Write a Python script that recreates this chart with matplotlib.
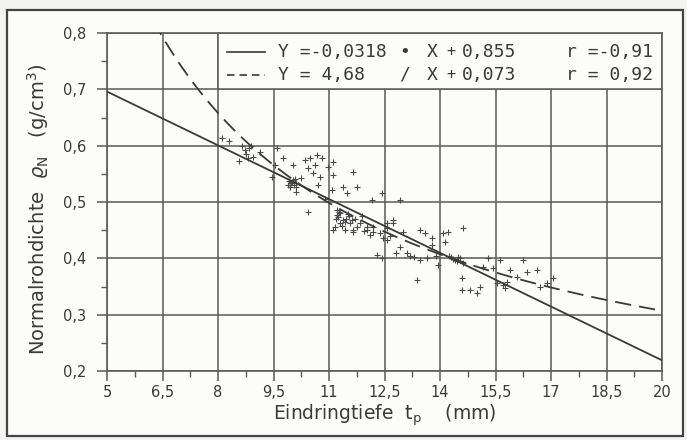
import matplotlib
matplotlib.use('Agg')
import matplotlib.pyplot as plt
import numpy as np
from matplotlib.patches import Rectangle

plt.rcParams['font.family'] = ['DejaVu Sans']
plt.rcParams['mathtext.fontset'] = 'dejavusans'

tp = [8.11, 8.3, 8.65, 8.73, 8.9, 9.14, 8.57, 8.81, 8.95, 9.6, 9.46, 9.54, 9.76,
      10.03, 9.95, 10.1, 10.03, 10.0, 9.98, 10.06, 10.35, 10.49, 10.68, 10.8, 10.62,
      10.43, 10.57, 10.76, 10.97, 11.1, 11.1, 11.65, 11.76, 11.38, 11.49, 11.08,
      12.16, 12.43, 12.92, 10.43, 10.1, 11.24, 11.38, 11.3, 11.57, 11.76, 12.03,
      11.1, 11.65, 12.19, 12.57, 12.73, 11.22, 11.22, 11.16, 11.43, 11.65, 11.84,
      12.03, 12.19, 12.38, 12.57, 12.73, 12.57, 12.92, 12.3, 12.43, 13.1, 13.0,
      13.46, 13.6, 13.78, 14.08, 14.22, 14.62, 13.78, 14.14, 13.46, 13.65, 13.95,
      14.4, 14.54, 14.62, 14.48, 14.35, 13.38, 14.59, 14.59, 14.81, 15.08, 15.0,
      15.3, 15.62, 15.54, 15.76, 15.81, 15.16, 15.43, 15.89, 16.24, 16.35, 16.62,
      16.89, 17.05, 16.7, 16.08, 12.46, 11.3, 11.45, 11.55, 11.35, 11.7, 11.9,
      10.9, 10.7, 12.8, 13.3, 13.9,
      9.92, 10.08, 10.12, 9.88, 11.28, 11.42, 11.5, 11.62, 11.18, 14.3, 14.45,
      14.25, 8.75, 8.85, 10.25, 11.95, 12.1, 12.65, 13.2, 15.7]
rho = [0.613, 0.608, 0.600, 0.592, 0.600, 0.589, 0.573, 0.578, 0.580, 0.596, 0.544,
       0.566, 0.578, 0.539, 0.527, 0.518, 0.566, 0.536, 0.533, 0.531, 0.574, 0.578,
       0.583, 0.578, 0.566, 0.560, 0.551, 0.544, 0.562, 0.571, 0.548, 0.553, 0.527,
       0.527, 0.516, 0.521, 0.503, 0.516, 0.503, 0.482, 0.527, 0.473, 0.468, 0.462,
       0.462, 0.455, 0.455, 0.450, 0.447, 0.447, 0.462, 0.468, 0.486, 0.477, 0.455,
       0.450, 0.450, 0.462, 0.450, 0.455, 0.445, 0.454, 0.462, 0.432, 0.420, 0.406,
       0.400, 0.409, 0.447, 0.450, 0.445, 0.436, 0.445, 0.447, 0.454, 0.423, 0.429,
       0.397, 0.400, 0.388, 0.397, 0.400, 0.391, 0.402, 0.398, 0.361, 0.365, 0.343,
       0.343, 0.349, 0.338, 0.400, 0.397, 0.356, 0.347, 0.358, 0.384, 0.383, 0.379,
       0.397, 0.376, 0.379, 0.356, 0.365, 0.349, 0.367, 0.436, 0.480, 0.470, 0.475,
       0.458, 0.470, 0.475, 0.505, 0.530, 0.410, 0.402, 0.405,
       0.538, 0.541, 0.534, 0.530, 0.483, 0.465, 0.478, 0.468, 0.470, 0.403, 0.396,
       0.404, 0.586, 0.596, 0.542, 0.448, 0.441, 0.440, 0.404, 0.352]

# Regressionen aus der Legende
lin_a, lin_b = -0.0318, 0.855
hyp_a, hyp_b = 4.68, 0.073

x_ticks = [5, 6.5, 8, 9.5, 11, 12.5, 14, 15.5, 17, 18.5, 20]
x_labels = ['5', '6,5', '8', '9,5', '11', '12,5', '14', '15,5', '17', '18,5', '20']
y_ticks = [0.2, 0.3, 0.4, 0.5, 0.6, 0.7, 0.8]
y_labels = ['0,2', '0,3', '0,4', '0,5', '0,6', '0,7', '0,8']

ink = '#3a3a3a'
gridc = '#5a5a5a'

fig = plt.figure(figsize=(6.87, 4.40), dpi=100)
fig.patch.set_facecolor('#f3f3f1')
# Rahmen um die ganze Abbildung
fig.patches.append(Rectangle((7/687, 1-436/440), 676/687, 426/440, transform=fig.transFigure,
                             facecolor='#fcfcfb', edgecolor='#444444', lw=1.6, zorder=-5))

ax = fig.add_axes([107/687, 1-371/440, 555/687, 338/440])
ax.set_zorder(2)
ax.set_facecolor('#fcfcfb')
ax.set_xlim(5, 20)
ax.set_ylim(0.2, 0.8)
ax.set_xticks(x_ticks)
ax.set_xticklabels(x_labels)
ax.set_yticks(y_ticks)
ax.set_yticklabels(y_labels)
ax.set_xticks(np.arange(5.75, 20, 1.5), minor=True)
ax.set_yticks(np.arange(0.25, 0.8, 0.1), minor=True)
ax.tick_params(which='major', direction='out', length=7, width=1.1, color=gridc,
               labelsize=10.5, labelcolor=ink)
ax.tick_params(axis='y', which='major', pad=8)
ax.tick_params(axis='x', which='major', pad=3)
ax.tick_params(which='minor', direction='out', length=4, width=1.0, color=gridc)
for s in ax.spines.values():
    s.set_color(gridc)
    s.set_linewidth(1.2)
ax.set_axisbelow(True)
ax.grid(which='major', color=gridc, lw=1.1)

# Legendenfeld ueberdeckt das Gitter
ax.add_patch(Rectangle((8, 0.7), 12, 0.1, facecolor='#fcfcfb', edgecolor=gridc, lw=1.1, zorder=1))

xs = np.linspace(5, 20, 400)
ax.plot(xs, lin_a * xs + lin_b, color=ink, lw=1.3, zorder=3)
ax.plot(xs, hyp_a / xs + hyp_b, color=ink, lw=1.3, ls=(0, (9, 4.5)), zorder=3)
ax.scatter(tp, rho, marker='+', s=20, color='#4a4a4a', linewidths=0.8, zorder=2)

# Legende
lf = dict(fontsize=13, color=ink, va='center', family='DejaVu Sans Mono', zorder=4)
ax.plot([8.24, 9.27], [0.767, 0.767], color=ink, lw=1.2, zorder=3)
ax.plot([8.24, 9.27], [0.726, 0.726], color=ink, lw=1.2, ls=(0, (4.5, 3)), zorder=3)
rows = [(0.767, 'Y =-0,0318', '\u2022', '0,855', 'r =-0,91'),
        (0.726, 'Y = 4,68', '/', '0,073', 'r = 0,92')]
for yy, t1, op, c, r in rows:
    ax.text(9.62, yy, t1, **lf)
    ax.text(13.05, yy, op, ha='center', **lf)
    ax.text(13.78, yy, 'X', ha='center', **lf)
    ax.text(14.3, yy, '+', ha='center', **{**lf, 'fontsize': 11})
    ax.text(14.6, yy, c, **lf)
    ax.text(19.75, yy, r, ha='right', **lf)

ax.set_xlabel(r'Eindringtiefe  t$_\mathrm{p}$    (mm)', fontsize=13.5, color=ink, labelpad=2)
ax.set_ylabel(r'Normalrohdichte  $\varrho_\mathrm{N}$   (g/cm$^3$)', fontsize=14, color=ink)
ax.yaxis.set_label_coords(-0.10, 0.48)

fig.savefig('out.png', dpi=100, facecolor=fig.get_facecolor())
